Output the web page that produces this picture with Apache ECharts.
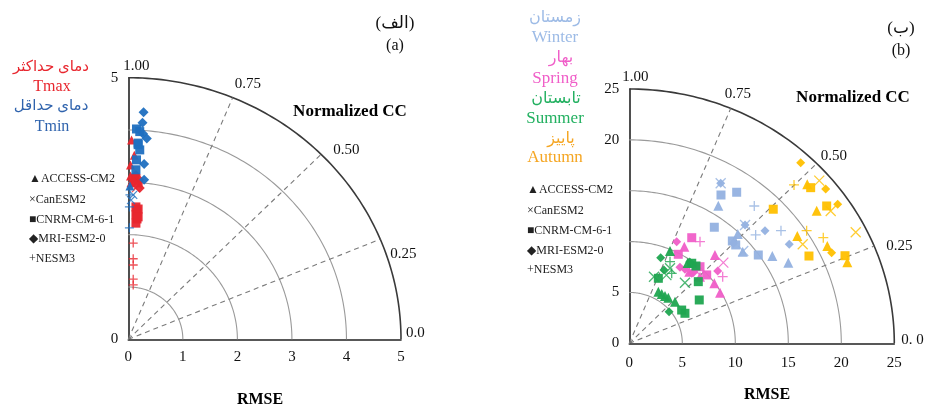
<!DOCTYPE html>
<html><head><meta charset="utf-8">
<script src="https://cdn.jsdelivr.net/npm/echarts@6/dist/echarts.min.js"></script>
<style>html,body{margin:0;padding:0;background:#fff}#c{width:925px;height:410px}</style>
</head><body><div id="c"></div><script>
// ---------- labels ----------
const models = ['ACCESS-CM2','CanESM2','CNRM-CM-6-1','MRI-ESM2-0','NESM3'];
const modelGlyphs = ['▲','×','■','◆','+'];
const ccValues = [1.00, 0.75, 0.50, 0.25, 0.0];
const ccLabelsLeft = ['1.00','0.75','0.50','0.25','0.0'];
const ccLabelsRight = ['1.00','0.75','0.50','0.25','0. 0'];
const arcsLeft = [1,2,3,4,5];
const arcsRight = [5,10,15,20,25];
const raysCC = [0.25, 0.50, 0.75];
const leftYTicksShown = [0,5];
const rightYTicksShown = [0,5,20,25];

// ---------- panel (a) data: [x (RMSE axis), y] ----------
const tmaxACCESS = [[0.06,3.81],[0.11,3.52],[0.04,3.33],[0.04,3.12],[0.05,2.99]];
const tmaxCanESM = [[0.14,2.89],[0.18,2.95]];
const tmaxCNRM = [[0.12,3.08],[0.18,2.99],[0.14,2.53],[0.16,2.45],[0.14,2.38],[0.16,2.30],[0.14,2.22],[0.18,2.49],[0.18,2.34]];
const tmaxMRI = [[0.21,2.89],[0.20,3.05],[0.14,3.14],[0.10,3.00]];
const tmaxNESM = [[0.09,1.84],[0.09,1.54],[0.09,1.42],[0.09,1.15],[0.09,1.04]];

const tminACCESS = [[0.03,2.93]];
const tminCanESM = [[0.09,2.76],[0.05,2.66]];
const tminCNRM = [[0.15,4.02],[0.21,3.97],[0.18,3.75],[0.18,3.72],[0.21,3.62],[0.15,3.43],[0.14,3.24]];
const tminMRI = [[0.28,4.34],[0.26,4.14],[0.27,3.93],[0.34,3.84],[0.29,3.35],[0.29,3.05]];
const tminNESM = [[0.03,2.76],[0.02,2.53],[0.02,2.13]];

// ---------- panel (b) data ----------
const winterACCESS = [[8.4,13.53],[10.23,10.75],[10.7,9.01],[13.49,8.58],[15.0,7.93]];
const winterCanESM = [[8.62,15.73],[10.75,9.08],[10.92,11.63]];
const winterCNRM = [[8.65,14.58],[10.13,14.85],[8.02,11.41],[9.72,10.06],[10.04,9.67],[12.17,8.68]];
const winterMRI = [[8.62,15.73],[10.92,11.63],[12.8,11.07],[15.09,9.73],[9.81,9.83]];
const winterNESM = [[11.79,13.5],[11.92,10.65],[14.31,11.07]];

const springACCESS = [[5.19,9.5],[8.08,8.68],[8.02,5.9],[8.56,4.98],[5.66,7.04],[6.67,6.55]];
const springCanESM = [[8.87,7.93],[6.2,7.2]];
const springCNRM = [[4.62,8.75],[5.89,10.38],[7.3,6.72],[6.67,7.53]];
const springMRI = [[4.47,9.99],[8.34,7.11],[4.78,7.47],[5.25,7.28],[5.89,6.88],[6.1,7.0]];
const springNESM = [[6.67,9.99],[8.81,6.55]];

const summerACCESS = [[3.84,9.08],[2.74,5.07],[3.06,4.85],[3.37,4.65],[3.68,4.48],[4.31,4.09],[5.5,7.9]];
const summerCanESM = [[2.33,6.55],[3.84,7.37],[5.25,5.96],[3.5,6.7]];
const summerCNRM = [[2.74,6.39],[6.51,6.06],[6.6,4.26],[5.25,2.95],[4.94,3.27],[6.29,7.6],[5.89,7.87]];
const summerMRI = [[2.96,8.42],[3.27,7.21],[3.75,3.11],[5.7,8.0]];
const summerNESM = [[4.0,6.88],[3.84,8.02]];

const autumnACCESS = [[16.79,15.63],[17.68,13.04],[15.85,10.55],[18.68,9.57],[20.57,7.96]];
const autumnCanESM = [[17.92,15.99],[19.0,13.01],[21.36,10.91],[16.36,9.73]];
const autumnCNRM = [[13.58,13.18],[17.11,15.3],[18.62,13.5],[16.95,8.58],[20.35,8.61]];
const autumnMRI = [[16.17,17.76],[18.53,15.17],[19.66,13.67],[19.09,8.91]];
const autumnNESM = [[15.54,15.57],[16.73,11.07],[18.3,10.38]];

// ---------- styles ----------
const SERIF = '"Liberation Serif","DejaVu Sans",serif';
const C_TMAX = '#e8262e', C_TMIN = '#1f6fc0';
const C_WIN = '#94b1e0', C_SPR = '#f05ec8', C_SUM = '#1fa550', C_AUT = '#ffc000';
const SYMS = ['triangle','path://M0,0L10,10M10,0L0,10','rect','diamond','path://M5,0L5,10M0,5L10,5'];
const SIZES_L = [9,8,9,10,9];
const SIZES_R = [10,10,9,9,10];
const ccOffsetsLeft = [[-5,-12],[2,-14],[12,-4],[10,15],[5,-6]];
const ccOffsetsRight = [[-7,-12],[-6,-14],[4,-7],[12,0],[7,-3]];

function scatter(name, data, mi, color, gi, sizes){
  const open = mi === 1 || mi === 4;
  return {
    type:'scatter', name, data, xAxisIndex:gi, yAxisIndex:gi,
    symbol: SYMS[mi], symbolSize: sizes[mi], z:5,
    itemStyle: open ? {color:'rgba(0,0,0,0)', borderColor:color, borderWidth:1.3}
                    : {color:color, opacity:0.95},
    emphasis:{disabled:true}
  };
}
function arcSeries(gi, radii, maxR){
  return {type:'custom', xAxisIndex:gi, yAxisIndex:gi, data: radii.map(r=>[r]), z:1, silent:true,
    clip:false,
    renderItem(params, api){
      const r = api.value(0); const pts = [];
      for(let d=0; d<=90; d+=1){ const a=d*Math.PI/180; pts.push(api.coord([r*Math.cos(a), r*Math.sin(a)])); }
      const outer = r === maxR;
      return {type:'polyline', shape:{points:pts}, style:{stroke: outer?'#3a3a3a':'#9a9a9a', lineWidth: outer?1.6:1.1, fill:null}};
    }};
}
function raySeries(gi, R){
  return {type:'custom', xAxisIndex:gi, yAxisIndex:gi, data: raysCC.map(c=>[c]), z:1, silent:true, clip:false,
    renderItem(params, api){
      const a = api.value(0)*Math.PI/2;
      const p0 = api.coord([0,0]); const p1 = api.coord([R*Math.cos(a), R*Math.sin(a)]);
      return {type:'line', shape:{x1:p0[0],y1:p0[1],x2:p1[0],y2:p1[1]}, style:{stroke:'#7a7a7a', lineWidth:1.1, lineDash:[5,4]}};
    }};
}
function ccLabelSeries(gi, R, labels, offs){
  return {type:'custom', xAxisIndex:gi, yAxisIndex:gi, data: ccValues.map(c=>[c]), z:3, silent:true, clip:false,
    renderItem(params, api){
      const i = params.dataIndex; const a = api.value(0)*Math.PI/2;
      const p = api.coord([R*Math.cos(a), R*Math.sin(a)]);
      return {type:'text', x:p[0]+offs[i][0], y:p[1]+offs[i][1],
        style:{text:labels[i], fill:'#111', font:'15px '+SERIF, align:'left', verticalAlign:'middle', textAlign:'left', textVerticalAlign:'middle'}};
    }};
}
function axisPair(gi, max, interval, shown){
  const x = {type:'value', gridIndex:gi, min:0, max, interval,
    axisLine:{show:true, onZero:false, lineStyle:{color:'#222', width:1.6}}, axisTick:{show:false}, splitLine:{show:false},
    axisLabel:{color:'#111', fontFamily:SERIF, fontSize:15, margin:10}};
  const y = {type:'value', gridIndex:gi, min:0, max, interval,
    axisLine:{show:true, onZero:false, lineStyle:{color:'#222', width:1.6}}, axisTick:{show:false}, splitLine:{show:false},
    axisLabel:{color:'#111', fontFamily:SERIF, fontSize:15, margin:10, formatter:v=> shown.includes(v)? String(v):''}};
  return [x,y];
}

const [xL,yL] = axisPair(0,5,1,leftYTicksShown);
const [xR,yR] = axisPair(1,25,5,rightYTicksShown);
xR.axisLabel.margin = 12;

const series = [
  arcSeries(0, arcsLeft, 5), raySeries(0, 5), ccLabelSeries(0, 5, ccLabelsLeft, ccOffsetsLeft),
  arcSeries(1, arcsRight, 25), raySeries(1, 25), ccLabelSeries(1, 25, ccLabelsRight, ccOffsetsRight)
];
const leftSets = [
  ['Tmax', C_TMAX, [tmaxACCESS,tmaxCanESM,tmaxCNRM,tmaxMRI,tmaxNESM]],
  ['Tmin', C_TMIN, [tminACCESS,tminCanESM,tminCNRM,tminMRI,tminNESM]]
];
leftSets.forEach(([n,c,arrs]) => arrs.forEach((d,mi)=> series.push(scatter(n+' '+models[mi], d, mi, c, 0, SIZES_L))));
const rightSets = [
  ['Winter', C_WIN, [winterACCESS,winterCanESM,winterCNRM,winterMRI,winterNESM]],
  ['Spring', C_SPR, [springACCESS,springCanESM,springCNRM,springMRI,springNESM]],
  ['Summer', C_SUM, [summerACCESS,summerCanESM,summerCNRM,summerMRI,summerNESM]],
  ['Autumn', C_AUT, [autumnACCESS,autumnCanESM,autumnCNRM,autumnMRI,autumnNESM]]
];
rightSets.forEach(([n,c,arrs]) => arrs.forEach((d,mi)=> series.push(scatter(n+' '+models[mi], d, mi, c, 1, SIZES_R))));

function txt(text, x, y, size, color, opts){
  return Object.assign({type:'text', x, y, silent:true,
    style:Object.assign({text, fill:color, font:size+'px '+SERIF, align:'center', verticalAlign:'middle', textAlign:'center', textVerticalAlign:'middle'}, opts||{})});
}
const graphic = [
  txt('(الف)', 395, 24, 17, '#111'), txt('(a)', 395, 46, 16, '#111'),
  txt('(ب)', 901, 29, 17, '#111'), txt('(b)', 901, 51, 16, '#111'),
  txt('دمای حداکثر', 51, 67, 15, C_TMAX), txt('Tmax', 52, 87, 16, C_TMAX),
  txt('دمای حداقل', 51, 106, 15, '#2f63ad'), txt('Tmin', 52, 127, 16, '#2f63ad'),
  txt('زمستان', 555, 18, 16, '#9dbbe6'), txt('Winter', 555, 38, 17, '#9dbbe6'),
  txt('بهار', 561, 58, 16, '#f05ec8'), txt('Spring', 555, 79, 17, '#f05ec8'),
  txt('تابستان', 556, 99, 16, '#22b060'), txt('Summer', 555, 119, 17, '#22b060'),
  txt('پاییز', 561, 139, 16, '#f5a623'), txt('Autumn', 555, 158, 17, '#f5a623'),
  txt('Normalized CC', 350, 112, 17, '#000', {font:'bold 17px '+SERIF}),
  txt('Normalized CC', 853, 98, 17, '#000', {font:'bold 17px '+SERIF}),
  txt('RMSE', 260, 400, 16, '#000', {font:'bold 16px '+SERIF}),
  txt('RMSE', 767, 395, 16, '#000', {font:'bold 16px '+SERIF})
];
const legYL = [179, 200, 220, 239, 259];
const legYR = [190, 211, 231, 251, 270];
models.forEach((m,i)=>{
  graphic.push(txt(modelGlyphs[i]+m, 29, legYL[i], 12, '#222', {align:'left', textAlign:'left'}));
  graphic.push(txt(modelGlyphs[i]+m, 527, legYR[i], 12, '#222', {align:'left', textAlign:'left'}));
});

const chart = echarts.init(document.getElementById('c'), null, {renderer:'canvas'});
chart.setOption({
  animation:false, backgroundColor:'#fff',
  grid:[{left:128.3, top:77.7, width:272.7, height:261.6},{left:629.3, top:89, width:265, height:254.3}],
  xAxis:[xL,xR], yAxis:[yL,yR], series, graphic
});
</script></body></html>
